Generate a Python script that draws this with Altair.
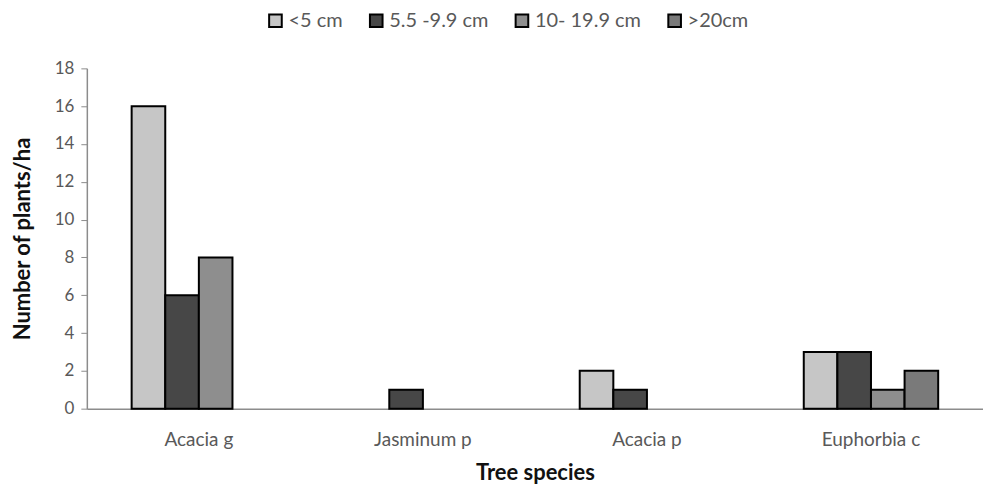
import altair as alt
import pandas as pd

species = ["Acacia g", "Jasminum p", "Acacia p", "Euphorbia c"]
classes = ["<5 cm", "5.5 -9.9 cm", "10- 19.9 cm", ">20cm"]
lt5 = [16, 0, 2, 3]
c5_10 = [6, 1, 1, 3]
c10_20 = [8, 0, 0, 1]
gt20 = [0, 0, 0, 2]
colors = ["#c6c6c6", "#474747", "#8e8e8e", "#7a7a7a"]

rows = []
for i, sp in enumerate(species):
    for cls, vals in zip(classes, [lt5, c5_10, c10_20, gt20]):
        rows.append({"species": sp, "cls": cls, "value": vals[i]})
df = pd.DataFrame(rows)

font = "Lato"

chart = alt.Chart(df).transform_filter("datum.value > 0").mark_bar(
    stroke="black", strokeWidth=2
).encode(
    x=alt.X("species:N", sort=species, title="Tree species",
            scale=alt.Scale(paddingInner=0.4, paddingOuter=0.2),
            axis=alt.Axis(labelAngle=0, ticks=False, labelPadding=22,
                          labelFontSize=19, labelColor="#595959", labelFont=font,
                          titleFont=font, titleFontSize=22, titleFontWeight="bold",
                          titleColor="#111111", titlePadding=13,
                          domainColor="#8c8c8c", domainWidth=1.5)),
    xOffset=alt.XOffset("cls:N", sort=classes, scale=alt.Scale(domain=classes, paddingInner=0)),
    y=alt.Y("value:Q", title="Number of plants/ha",
            scale=alt.Scale(domain=[0, 18]),
            axis=alt.Axis(values=list(range(0, 19, 2)), grid=False,
                          labelFontSize=17, labelColor="#595959", labelFont=font,
                          tickColor="#8c8c8c", tickSize=6, domainColor="#8c8c8c",
                          domainWidth=1.5, labelPadding=7,
                          titleFont=font, titleFontSize=22, titleFontWeight="bold",
                          titleColor="#111111", titlePadding=20)),
    fill=alt.Fill("cls:N", sort=classes,
                  scale=alt.Scale(domain=classes, range=colors),
                  legend=alt.Legend(title=None, orient="none", direction="horizontal",
                                    legendX=179, legendY=-58,
                                    symbolType="square", symbolSize=160,
                                    symbolStrokeColor="black", symbolStrokeWidth=2,
                                    labelFontSize=20, labelColor="#595959", labelFont=font,
                                    columnPadding=22, labelOffset=3)),
).properties(
    width=898, height=341,
    padding={"left": 3, "top": 2, "right": 0, "bottom": 2}
).configure_view(stroke=None)

chart.save("out.html", embed_options={"renderer": "svg", "actions": False})
